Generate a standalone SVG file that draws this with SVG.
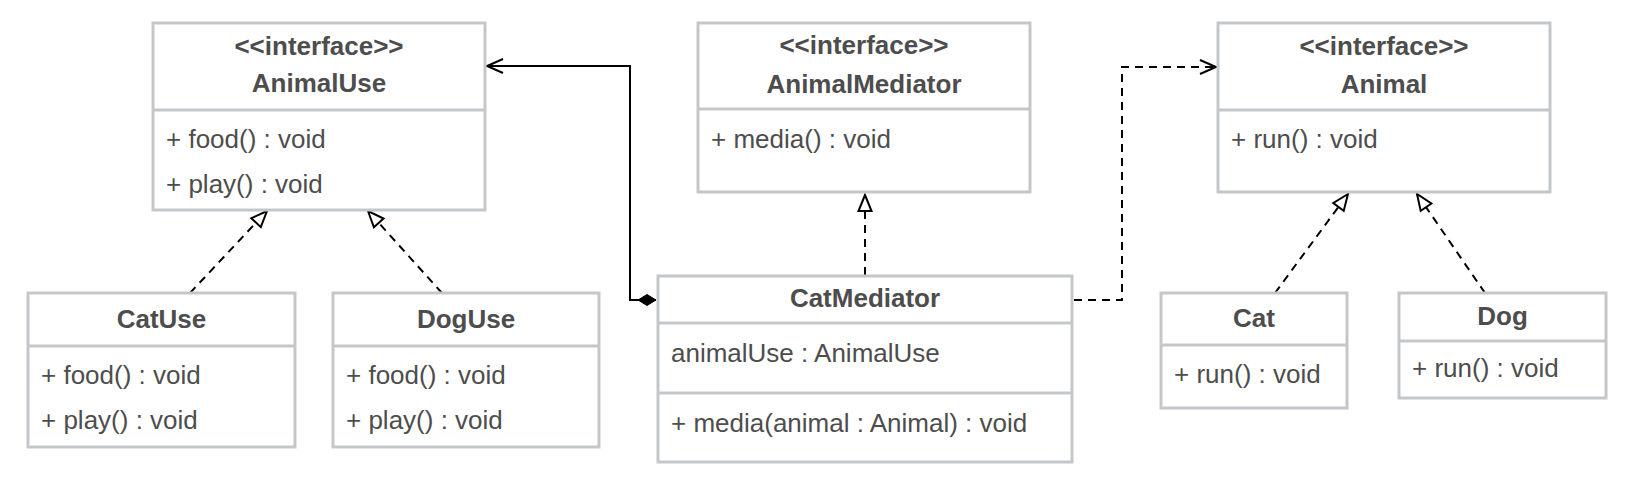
<svg xmlns="http://www.w3.org/2000/svg" width="1632" height="486" viewBox="0 0 1632 486">
  <style>
    .box { fill: #ffffff; stroke: #c4c7c9; stroke-width: 3; }
    .sep { stroke: #c4c7c9; stroke-width: 3; }
    .t { font-family: "Liberation Sans", Arial, sans-serif; font-size: 26px; fill: #4d4d4d; }
    .b { font-weight: bold; text-anchor: middle; }
    .line { fill: none; stroke: #000000; stroke-width: 2; }
    .dash { stroke-dasharray: 8 6; }
  </style>
  <defs>
    <marker id="open" markerUnits="userSpaceOnUse" viewBox="-20 -10 22 20" markerWidth="22" markerHeight="20" refX="0" refY="0" orient="auto" overflow="visible">
      <path d="M-16,-7 L0,0 L-16,7" fill="none" stroke="#000" stroke-width="2"/>
    </marker>
    <marker id="tri" markerUnits="userSpaceOnUse" viewBox="-20 -10 22 20" markerWidth="22" markerHeight="20" refX="0" refY="0" orient="auto" overflow="visible">
      <path d="M0,0 L-16,-6.5 L-16,6.5 Z" fill="#fff" stroke="#000" stroke-width="2"/>
    </marker>
    <marker id="diamond" markerUnits="userSpaceOnUse" viewBox="-2 -8 24 16" markerWidth="24" markerHeight="16" refX="0" refY="0" orient="auto" overflow="visible">
      <path d="M0,0 L9,-5.5 L18,0 L9,5.5 Z" fill="#000" stroke="#000" stroke-width="1"/>
    </marker>
  </defs>
  <rect width="1632" height="486" fill="#ffffff"/>

  <g id="connectors">
    <path class="line" d="M656,300 L630,300 L630,66 L487,66" marker-start="url(#diamond)" marker-end="url(#open)"/>
    <path class="line dash" d="M1074,300 L1122,300 L1122,67 L1216,67" marker-end="url(#open)"/>
    <path class="line dash" d="M865,275 L865,195" marker-end="url(#tri)"/>
    <path class="line dash" d="M190,293 L267,211" marker-end="url(#tri)"/>
    <path class="line dash" d="M442,293 L368,211" marker-end="url(#tri)"/>
    <path class="line dash" d="M1275,293 L1348,194" marker-end="url(#tri)"/>
    <path class="line dash" d="M1485,293 L1417,194" marker-end="url(#tri)"/>
  </g>

  <g id="AnimalUse">
    <rect class="box" x="153" y="23" width="332" height="187"/>
    <line class="sep" x1="153" y1="110" x2="485" y2="110"/>
    <text class="t b" x="319" y="55">&lt;&lt;interface&gt;&gt;</text>
    <text class="t b" x="319" y="92">AnimalUse</text>
    <text class="t" x="166" y="148">+ food() : void</text>
    <text class="t" x="166" y="193">+ play() : void</text>
  </g>

  <g id="AnimalMediator">
    <rect class="box" x="698" y="23" width="332" height="169"/>
    <line class="sep" x1="698" y1="109" x2="1030" y2="109"/>
    <text class="t b" x="864" y="54">&lt;&lt;interface&gt;&gt;</text>
    <text class="t b" x="864" y="93">AnimalMediator</text>
    <text class="t" x="711" y="148">+ media() : void</text>
  </g>

  <g id="Animal">
    <rect class="box" x="1218" y="23" width="332" height="169"/>
    <line class="sep" x1="1218" y1="110" x2="1550" y2="110"/>
    <text class="t b" x="1384" y="55">&lt;&lt;interface&gt;&gt;</text>
    <text class="t b" x="1384" y="93">Animal</text>
    <text class="t" x="1231" y="148">+ run() : void</text>
  </g>

  <g id="CatUse">
    <rect class="box" x="28" y="293" width="267" height="154"/>
    <line class="sep" x1="28" y1="346" x2="295" y2="346"/>
    <text class="t b" x="161.5" y="328">CatUse</text>
    <text class="t" x="41" y="384">+ food() : void</text>
    <text class="t" x="41" y="429">+ play() : void</text>
  </g>

  <g id="DogUse">
    <rect class="box" x="333" y="293" width="266" height="154"/>
    <line class="sep" x1="333" y1="346" x2="599" y2="346"/>
    <text class="t b" x="466" y="328">DogUse</text>
    <text class="t" x="346" y="384">+ food() : void</text>
    <text class="t" x="346" y="429">+ play() : void</text>
  </g>

  <g id="CatMediator">
    <rect class="box" x="658" y="276" width="414" height="186"/>
    <line class="sep" x1="658" y1="323" x2="1072" y2="323"/>
    <line class="sep" x1="658" y1="393" x2="1072" y2="393"/>
    <text class="t b" x="865" y="307">CatMediator</text>
    <text class="t" x="671" y="362">animalUse : AnimalUse</text>
    <text class="t" x="671" y="432">+ media(animal : Animal) : void</text>
  </g>

  <g id="Cat">
    <rect class="box" x="1161" y="293" width="186" height="115"/>
    <line class="sep" x1="1161" y1="345" x2="1347" y2="345"/>
    <text class="t b" x="1254" y="327">Cat</text>
    <text class="t" x="1174" y="383">+ run() : void</text>
  </g>

  <g id="Dog">
    <rect class="box" x="1399" y="293" width="207" height="105"/>
    <line class="sep" x1="1399" y1="341" x2="1606" y2="341"/>
    <text class="t b" x="1502.5" y="325">Dog</text>
    <text class="t" x="1412" y="377">+ run() : void</text>
  </g>
</svg>
